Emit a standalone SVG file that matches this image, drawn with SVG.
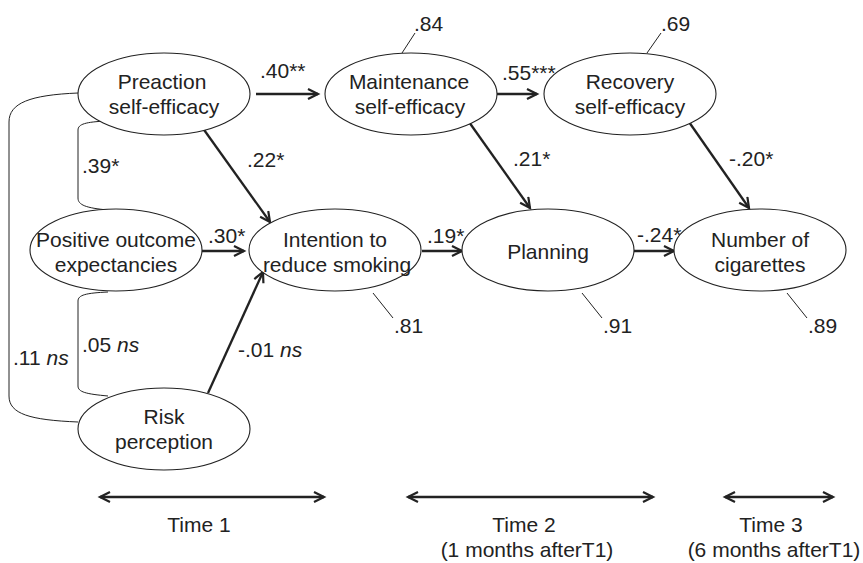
<svg xmlns="http://www.w3.org/2000/svg" width="863" height="563" viewBox="0 0 863 563">
<defs>
<style>
text{font-family:"Liberation Sans",Arial,sans-serif;font-size:21px;fill:#222;}
.n text{text-anchor:middle;}
.n ellipse{fill:#fff;stroke:#222;stroke-width:1.1;}
.arr{fill:none;stroke:#222;stroke-width:2.3;marker-end:url(#ah);}
.dbl{fill:none;stroke:#222;stroke-width:2.3;marker-end:url(#ah);marker-start:url(#ah);}
.thin{fill:none;stroke:#222;stroke-width:1;}
.ns{font-style:italic;}
.mid{text-anchor:middle;}
</style>
<marker id="ah" markerWidth="14" markerHeight="14" refX="11" refY="6" orient="auto-start-reverse" markerUnits="userSpaceOnUse">
<path d="M1,1 L11,6 L1,11" fill="none" stroke="#222" stroke-width="2.2"/>
</marker>
</defs>
<rect width="863" height="563" fill="#fff"/>

<g id="connectors">
<line class="arr" x1="256" y1="94" x2="318" y2="94"/>
<line class="arr" x1="497" y1="94" x2="537" y2="94"/>
<line class="arr" x1="202" y1="127" x2="270" y2="222"/>
<line class="arr" x1="202" y1="251" x2="244" y2="251"/>
<line class="arr" x1="208" y1="393" x2="263" y2="272"/>
<line class="arr" x1="422" y1="251" x2="462" y2="251"/>
<line class="arr" x1="469" y1="122" x2="530" y2="208"/>
<line class="arr" x1="689" y1="122" x2="749" y2="208"/>
<line class="arr" x1="634" y1="251" x2="674" y2="251"/>
<line class="thin" x1="402" y1="53" x2="415" y2="33"/>
<line class="thin" x1="647" y1="53" x2="661" y2="33"/>
<line class="thin" x1="373" y1="293" x2="393" y2="318"/>
<line class="thin" x1="582" y1="293" x2="602" y2="318"/>
<line class="thin" x1="787" y1="293" x2="807" y2="318"/>
<path class="thin" d="M106,121 C86,122 78,124 78,130 L78,198 C78,205 86,208 108,210"/>
<path class="thin" d="M108,292 C86,293 78,295 78,301 L78,386 C78,392 86,394 108,396"/>
<path class="thin" d="M78,93 C30,95 9,103 9,122 L9,396 C9,414 30,420 78,422"/>
</g>

<g id="edge-labels">
<text x="260" y="78">.40**</text>
<text x="502" y="80">.55***</text>
<text x="247" y="167">.22*</text>
<text x="208" y="243">.30*</text>
<text x="238" y="357">-.01 <tspan class="ns">ns</tspan></text>
<text x="427" y="243">.19*</text>
<text x="513" y="166">.21*</text>
<text x="729" y="166">-.20*</text>
<text x="637" y="242">-.24*</text>
<text x="82" y="173">.39*</text>
<text x="82" y="352">.05 <tspan class="ns">ns</tspan></text>
<text x="13" y="365">.11 <tspan class="ns">ns</tspan></text>
<text x="414" y="31">.84</text>
<text x="661" y="31">.69</text>
<text x="394" y="333">.81</text>
<text x="603" y="333">.91</text>
<text x="808" y="333">.89</text>
</g>

<g id="preaction" class="n">
<ellipse cx="164" cy="94" rx="86" ry="41"/>
<text x="162" y="89">Preaction</text>
<text x="164" y="114">self-efficacy</text>
</g>
<g id="positive" class="n">
<ellipse cx="116" cy="250" rx="86" ry="41"/>
<text x="116" y="247">Positive outcome</text>
<text x="116" y="272">expectancies</text>
</g>
<g id="risk" class="n">
<ellipse cx="164" cy="429" rx="86" ry="41"/>
<text x="164" y="424">Risk</text>
<text x="164" y="449">perception</text>
</g>
<g id="maintenance" class="n">
<ellipse cx="411" cy="94" rx="86" ry="41"/>
<text x="409" y="89">Maintenance</text>
<text x="410" y="114">self-efficacy</text>
</g>
<g id="recovery" class="n">
<ellipse cx="630" cy="94" rx="86" ry="41"/>
<text x="630" y="89">Recovery</text>
<text x="630" y="114">self-efficacy</text>
</g>
<g id="intention" class="n">
<ellipse cx="335" cy="250" rx="86" ry="41"/>
<text x="335" y="247">Intention to</text>
<text x="337" y="272">reduce smoking</text>
</g>
<g id="planning" class="n">
<ellipse cx="548" cy="250" rx="86" ry="41"/>
<text x="548" y="259">Planning</text>
</g>
<g id="cigarettes" class="n">
<ellipse cx="760" cy="250" rx="86" ry="41"/>
<text x="760" y="247">Number of</text>
<text x="760" y="272">cigarettes</text>
</g>

<g id="timeline">
<line class="dbl" x1="100" y1="497" x2="324" y2="497"/>
<line class="dbl" x1="408" y1="497" x2="653" y2="497"/>
<line class="dbl" x1="725" y1="497" x2="833" y2="497"/>
<text class="mid" x="199" y="532">Time 1</text>
<text class="mid" x="524" y="532">Time 2</text>
<text class="mid" x="527" y="557">(1 months afterT1)</text>
<text class="mid" x="771" y="532">Time 3</text>
<text class="mid" x="774" y="557">(6 months afterT1)</text>
</g>
</svg>
